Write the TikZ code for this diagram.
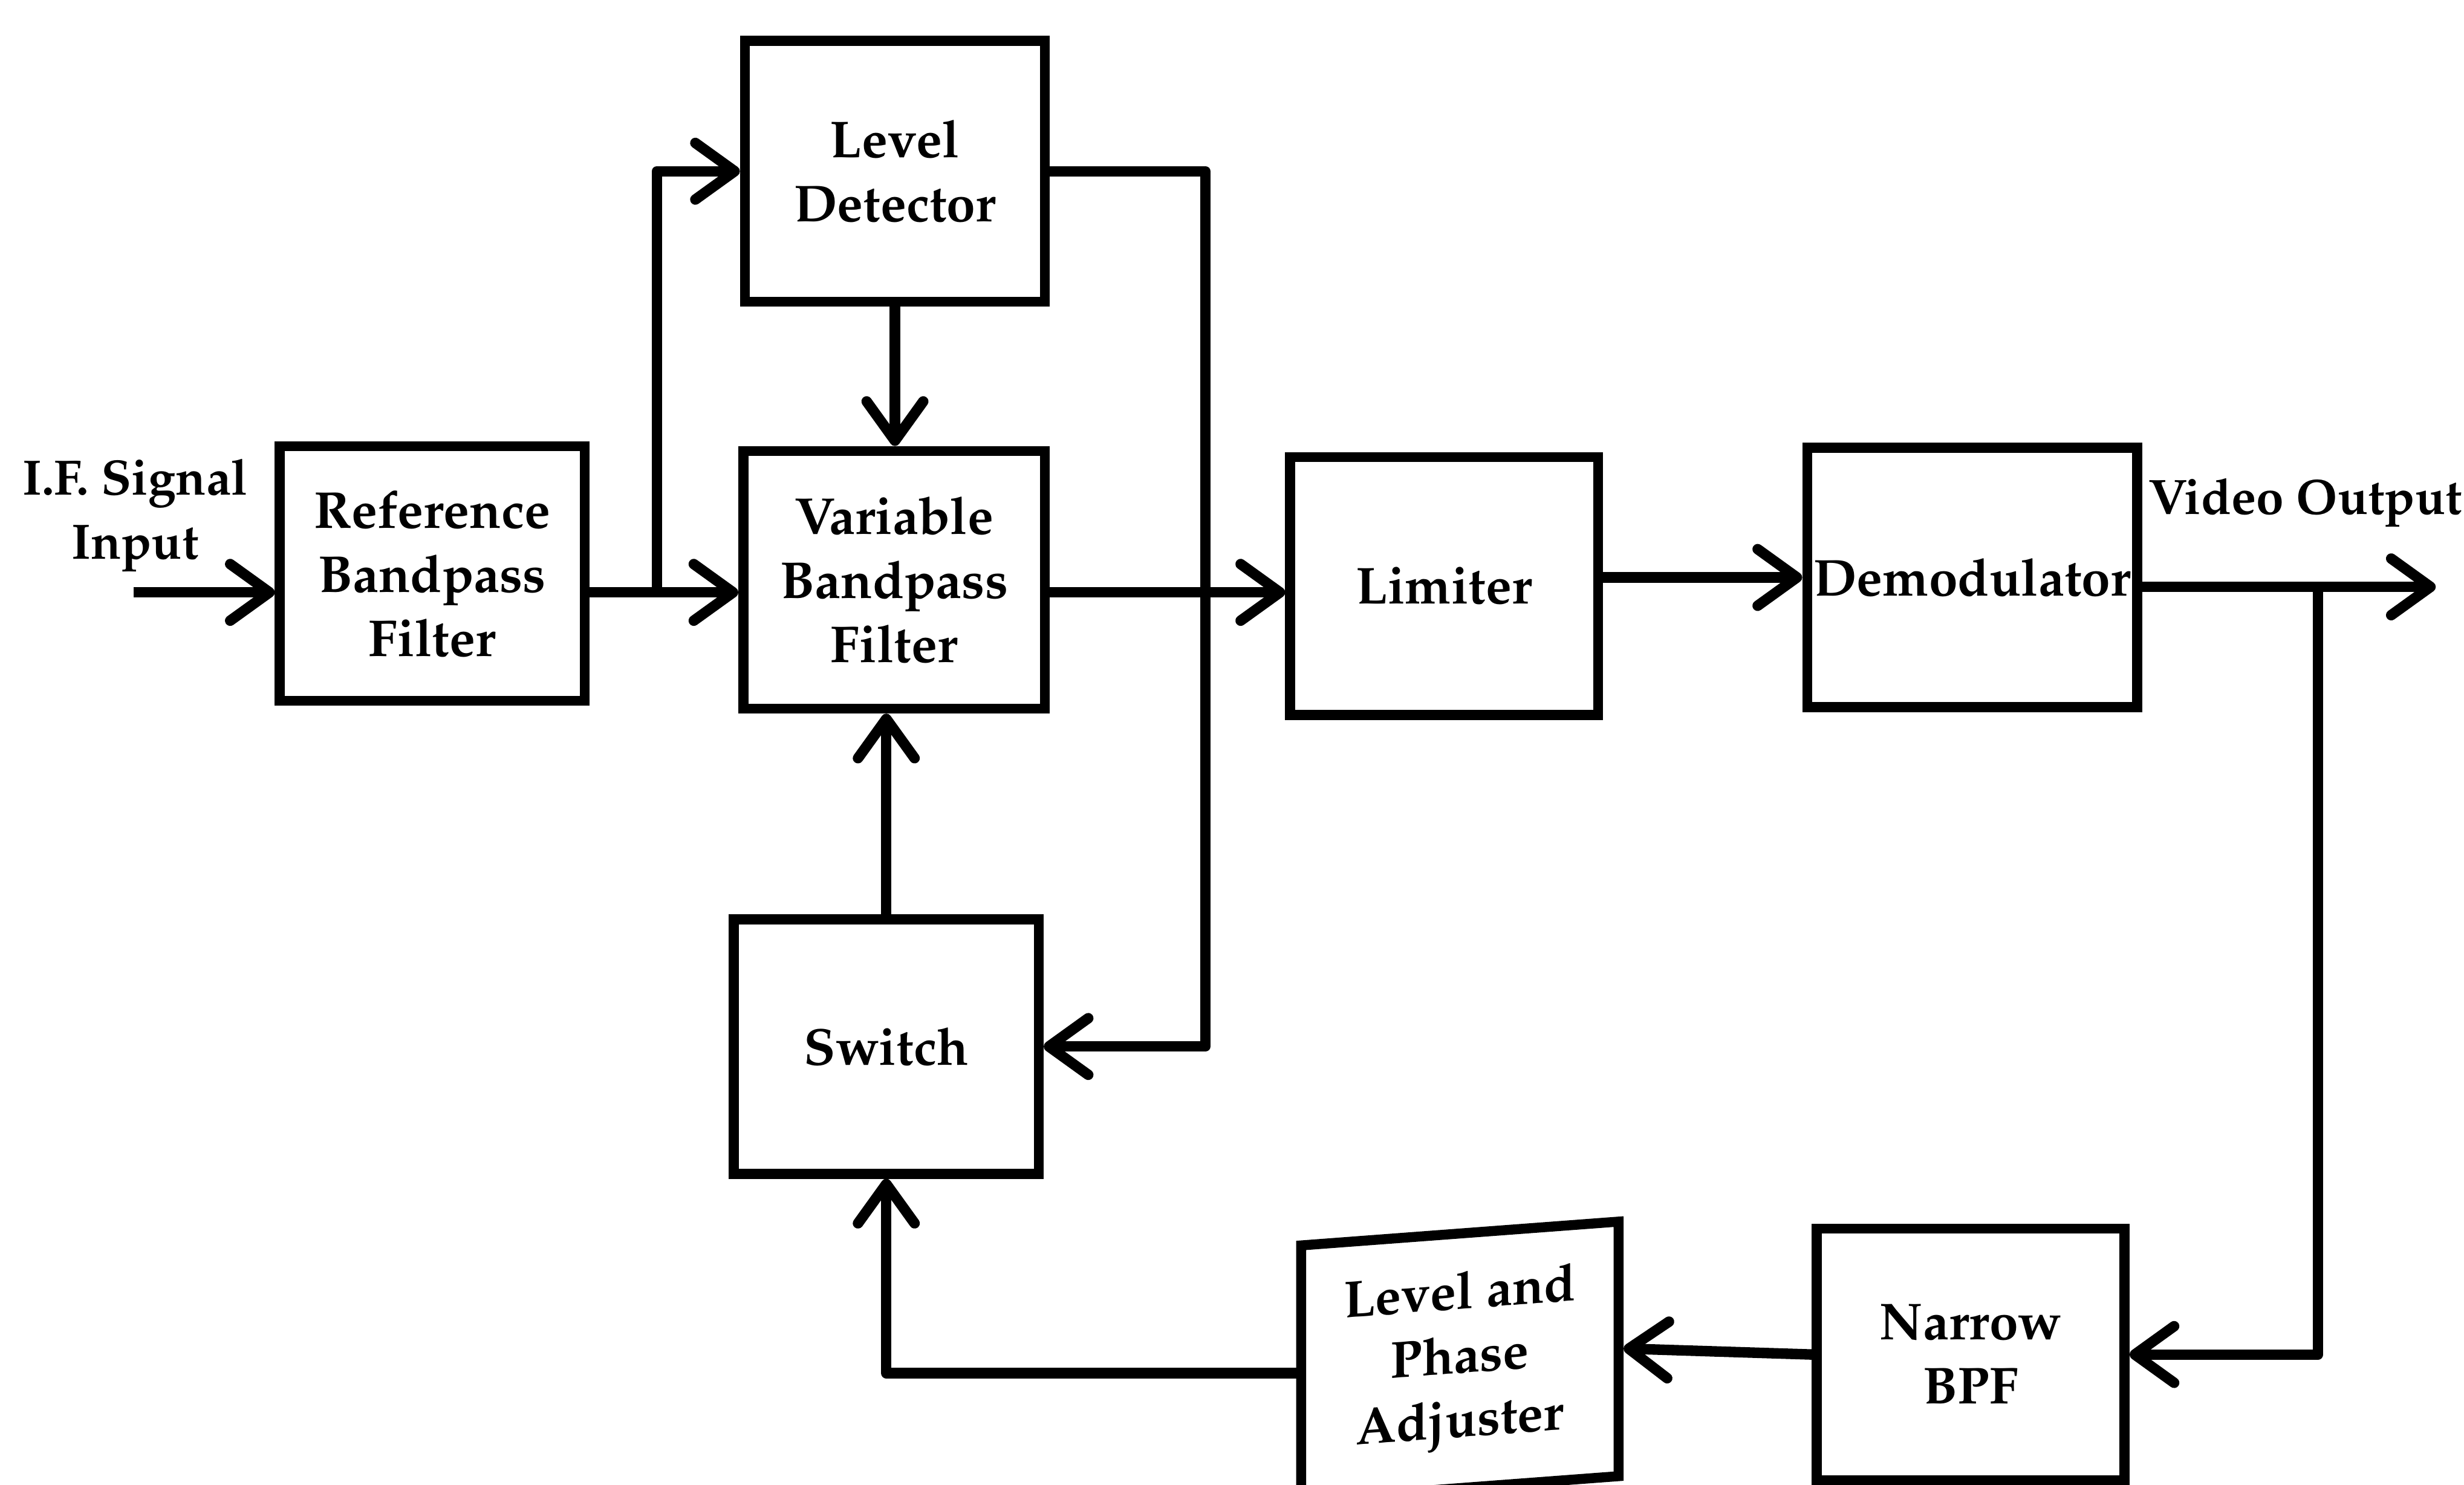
\documentclass[tikz,border=0pt]{standalone}
\usepackage[T1]{fontenc}
\usepackage{mathpazo}
\usetikzlibrary{arrows.meta,positioning,calc}

\tikzset{
  blk/.style={draw, line width=1.8pt, align=center, inner sep=0pt,
    font=\fontsize{9.4}{11.6}\selectfont\bfseries},
  lbl/.style={align=center, inner sep=0pt,
    font=\fontsize{9}{11.6}\selectfont\bfseries},
  line/.style={line width=1.9pt, line join=round},
  wire/.style={line, -{Straight Barb[length=2.5mm,width=3.6mm,round]}},
}

\begin{document}
\begin{tikzpicture}
  % page size
  \useasboundingbox (0,0) rectangle (15.68,9.45);

  \def\ymain{5.68}   % main signal line
  \def\xfb{7.67}     % detector -> switch return

  % blocks
  \node[blk, minimum width=1.94cm, minimum height=1.62cm] (ref) at (2.75,5.80) {Reference\\Bandpass\\Filter};
  \node[blk, minimum width=1.91cm, minimum height=1.66cm] (det) at (5.695,8.36) {Level\\Detector};
  \node[blk, minimum width=1.92cm, minimum height=1.64cm] (vbf) at (5.69,5.76) {Variable\\Bandpass\\Filter};
  \node[blk, minimum width=1.94cm, minimum height=1.62cm] (sw) at (5.64,2.79) {Switch};
  \node[blk, minimum width=1.96cm, minimum height=1.64cm] (lim) at (9.19,5.72) {Limiter};
  \node[blk, minimum width=2.10cm, minimum height=1.65cm] (dem) at (12.55,5.775) {Demodulator};
  \node[blk, minimum width=1.96cm, minimum height=1.60cm] (nbpf) at (12.54,0.83) {Narrow\\BPF};
  \node[blk, minimum width=2.02cm, minimum height=1.62cm, yslant=0.075, transform shape] (lpa) at (9.29,0.79) {Level and\\Phase\\Adjuster};

  % labels
  \node[lbl] (ifin) at (0.86,6.17) {I.F. Signal\\Input};
  \node[lbl] (vidout) at (14.67,6.25) {Video Output};

  % free ends and branch points
  \coordinate (in) at (0.85,\ymain);
  \coordinate (tap) at (4.18,\ymain);
  \coordinate (out) at (15.50,5.715);
  \coordinate (vtap) at (14.75,5.715);

  % forward path
  \draw[wire] (in) -- (in -| ref.west);
  \draw[wire] (in -| ref.east) -- (in -| vbf.west);
  \draw[wire] (tap) |- (det.west);
  \draw[wire] (det.south) -- (det.south |- vbf.north);
  \draw[wire] (in -| vbf.east) -- (in -| lim.west);
  \draw[wire] (lim.east |- dem.west) -- (dem.west);
  \draw[wire] (out -| dem.east) -- (out);

  % control loops
  \draw[wire] (det.east) -- (\xfb,0 |- det.east) |- (sw.east);
  \draw[wire] (vtap) |- (nbpf.east);
  \draw[wire] (nbpf.west) -- (lpa.east);
  \draw[wire] (lpa.west) -| (sw.south);
  \draw[wire] (sw.north) -- (sw.north |- vbf.south);
\end{tikzpicture}
\end{document}
